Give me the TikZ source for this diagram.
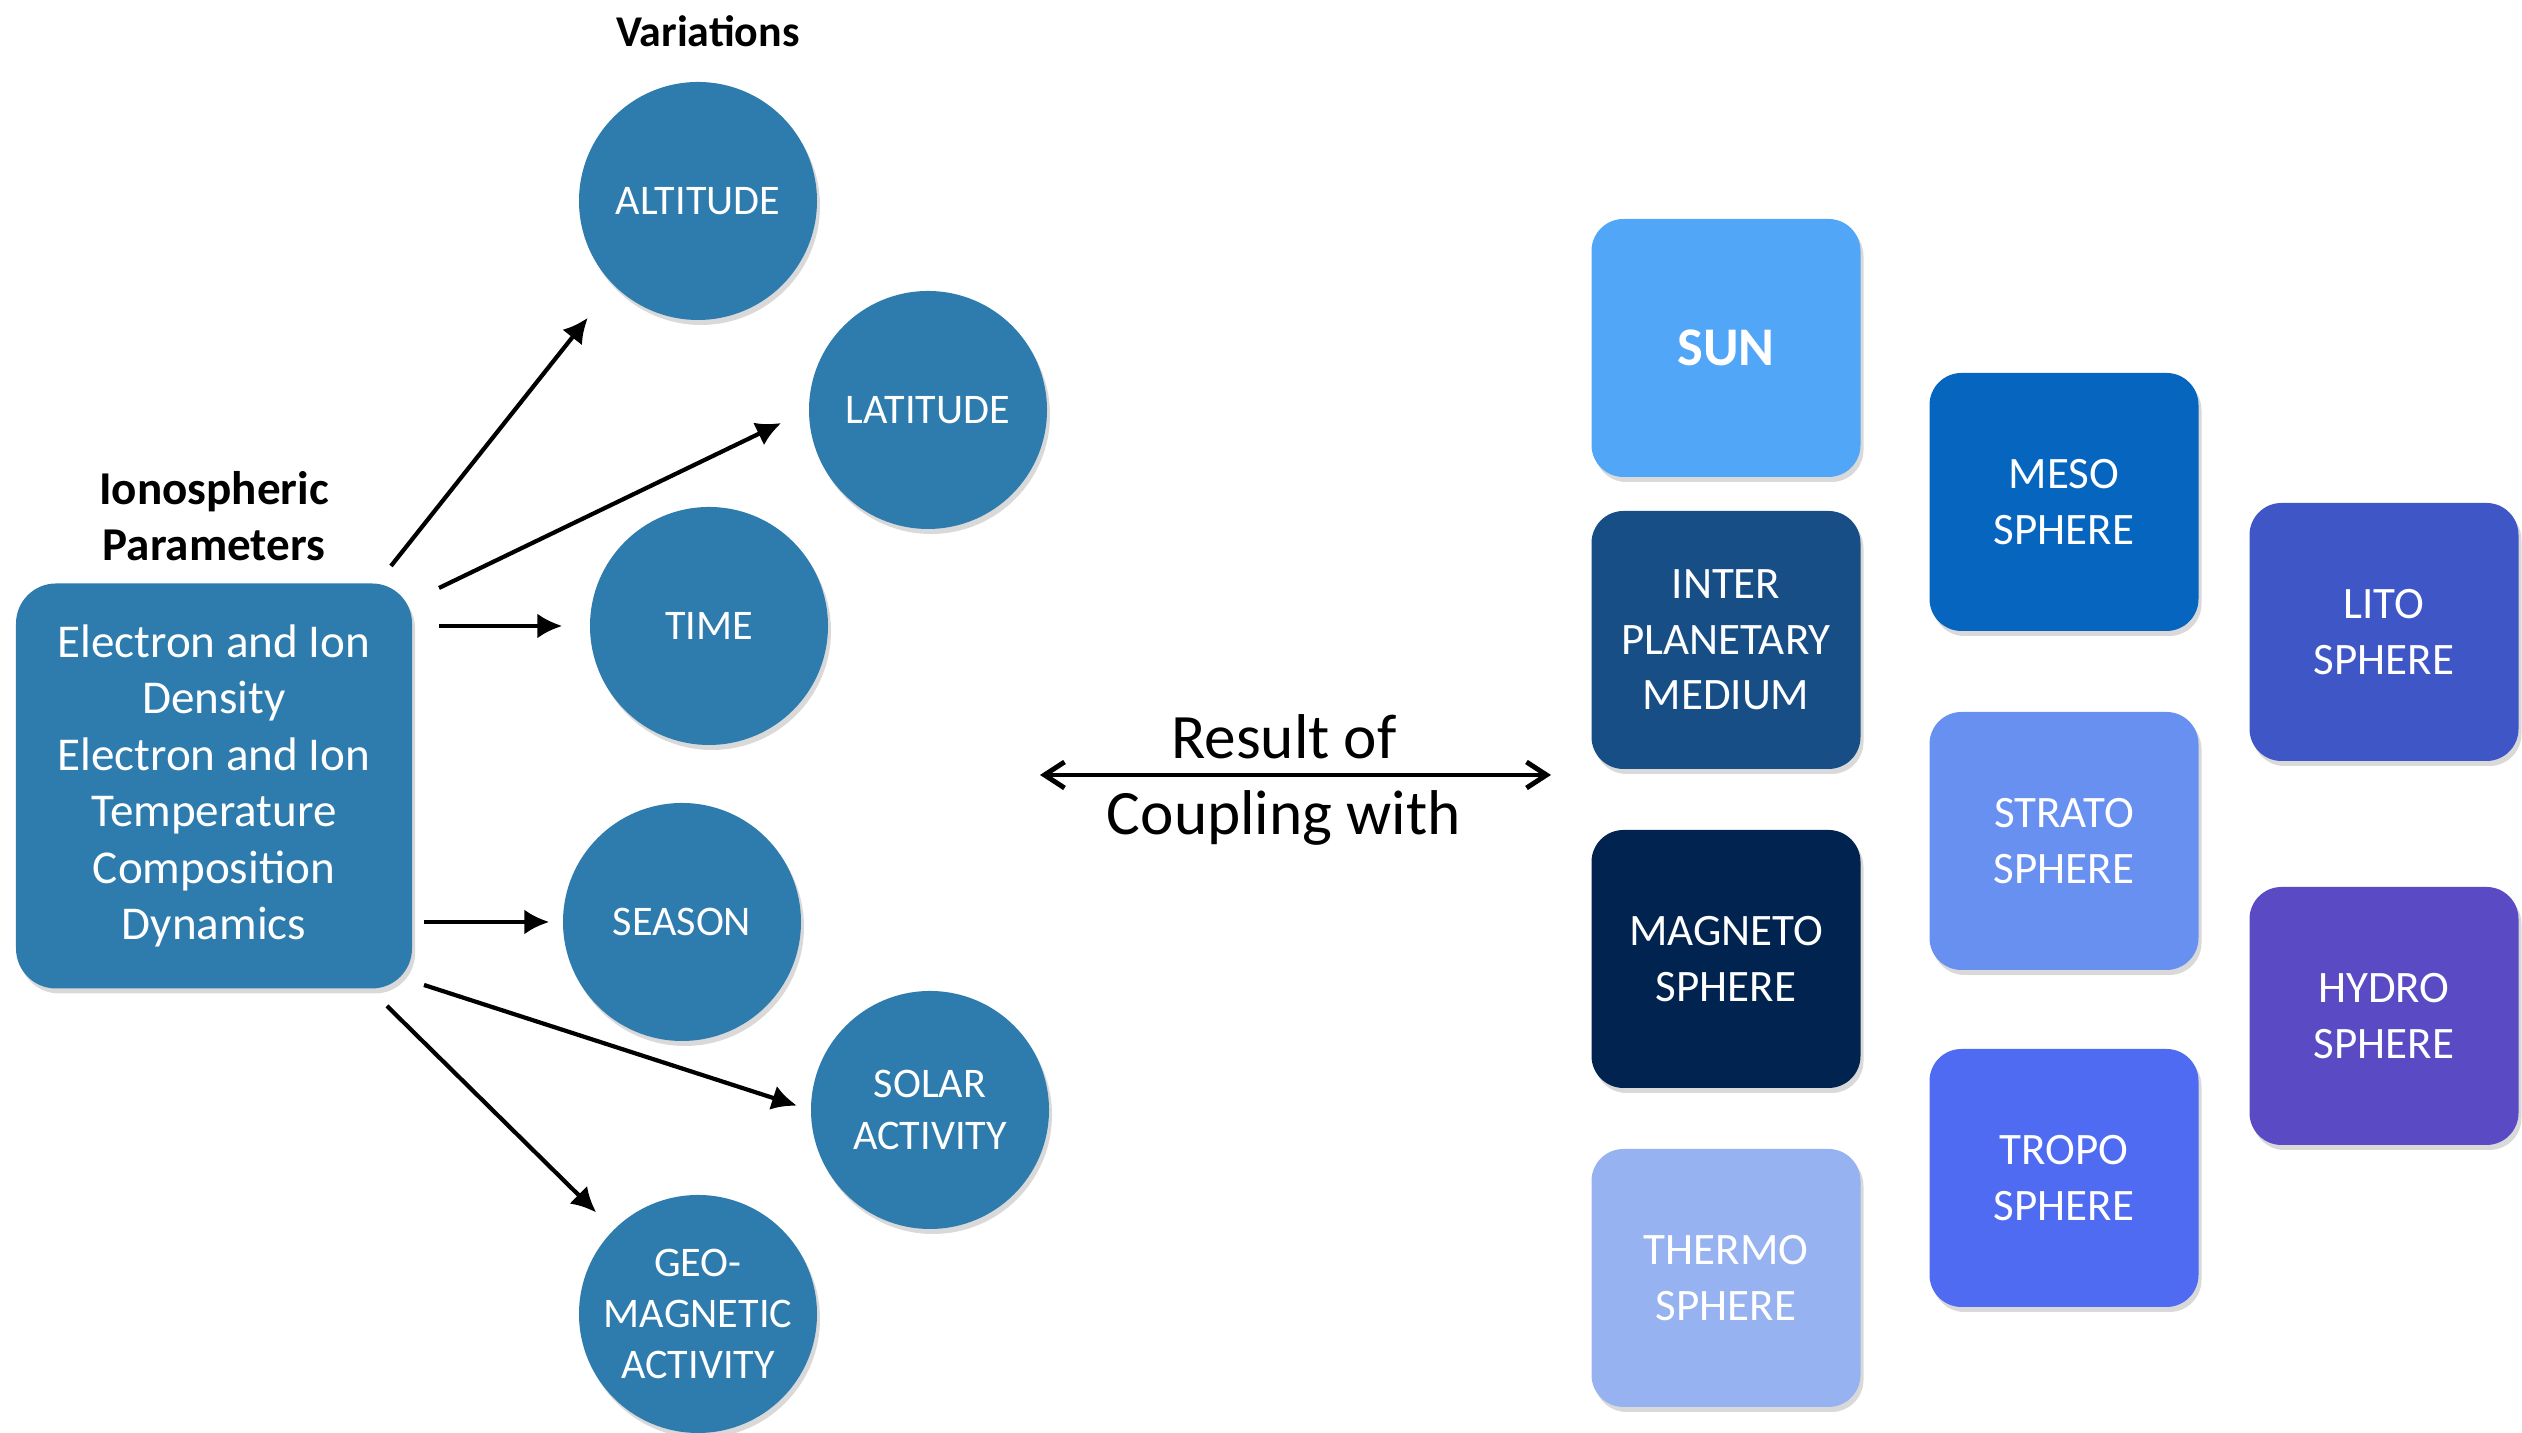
\documentclass[tikz,border=0pt]{standalone}
\usepackage{fontspec}
\setmainfont{Carlito}
\usetikzlibrary{arrows.meta,shadows}

\definecolor{varblue}{HTML}{2E7BAE}
\definecolor{sunblue}{HTML}{52A6F8}
\definecolor{ipmblue}{HTML}{184E86}
\definecolor{magblue}{HTML}{00234F}
\definecolor{thermoblue}{HTML}{97B2F1}
\definecolor{mesoblue}{HTML}{0565BF}
\definecolor{stratoblue}{HTML}{6890F0}
\definecolor{tropoblue}{HTML}{4F6BF1}
\definecolor{litoblue}{HTML}{3E56C6}
\definecolor{hydroblue}{HTML}{5A4AC4}

\begin{document}
\begin{tikzpicture}[
	softshadow/.style={drop shadow={shadow xshift=0.03cm,shadow yshift=-0.05cm,opacity=0.3}},
	varcirc/.style={circle,fill=varblue,text=white,minimum size=2.38cm,inner sep=0pt,align=center,font=\fontsize{12}{14.6}\selectfont,softshadow},
	spherebox/.style={rounded corners=0.32cm,fill=#1,text=white,minimum width=2.69cm,minimum height=2.58cm,inner sep=0pt,align=center,font=\fontsize{12.8}{15.8}\selectfont,softshadow},
	arr/.style={line width=1.2pt,-{Latex[length=0.25cm,width=0.25cm]}}
	]
	\useasboundingbox (0,0) rectangle (25.22,14.33);
	\node[font=\bfseries\fontsize{13.4}{16}\selectfont,align=center] (ptitle) at (2.14,9.17) {Ionospheric\\Parameters};
	\node[rounded corners=0.4cm,fill=varblue,text=white,minimum width=3.96cm,minimum height=4.05cm,align=center,font=\fontsize{13.4}{16.1}\selectfont,softshadow] (params) at (2.14,6.47) {Electron and Ion\\Density\\Electron and Ion\\Temperature\\Composition\\Dynamics};
	\node[font=\bfseries\fontsize{12.5}{15}\selectfont] (vtitle) at (7.08,14.02) {Variations};
	\node[varcirc] (alt) at (6.98,12.32) {ALTITUDE};
	\node[varcirc] (lat) at (9.28,10.23) {LATITUDE};
	\node[varcirc] (time) at (7.09,8.07) {TIME};
	\node[varcirc] (season) at (6.82,5.11) {SEASON};
	\node[varcirc] (solar) at (9.30,3.23) {SOLAR\\ACTIVITY};
	\node[varcirc] (geo) at (6.98,1.19) {GEO-\\MAGNETIC\\ACTIVITY};
	\coordinate (s1) at (3.91,8.67);
	\coordinate (s2) at (4.39,8.45);
	\coordinate (s3) at (4.39,8.07);
	\coordinate (s4) at (4.24,5.11);
	\coordinate (s5) at (4.24,4.48);
	\coordinate (s6) at (3.87,4.27);
	\draw[arr,shorten >=0.41cm] (s1) -- (alt.225);
	\draw[arr,shorten >=0.30cm] (s2) -- (lat.west);
	\draw[arr,shorten >=0.27cm] (s3) -- (time.west);
	\draw[arr,shorten >=0.13cm] (s4) -- (season.west);
	\draw[arr,shorten >=0.14cm] (s5) -- (solar.west);
	\draw[arr,shorten >=0.24cm] (s6) -- (geo.135);
	\node[font=\fontsize{18}{21.5}\selectfont,align=center] (coupling) at (12.84,6.53) {Result of\\Coupling with};
	\coordinate (cl) at (10.40,6.58);
	\coordinate (cr) at (15.51,6.58);
	\draw[line width=1.4pt,{Straight Barb[length=0.2cm,width=0.26cm]}-{Straight Barb[length=0.2cm,width=0.26cm]}] (cl) -- (cr);
	\node[spherebox=sunblue,font=\bfseries\fontsize{15.5}{18}\selectfont] (sun) at (17.26,10.85) {SUN};
	\node[spherebox=ipmblue] (ipm) at (17.26,7.93) {INTER\\PLANETARY\\MEDIUM};
	\node[spherebox=magblue] (magneto) at (17.26,4.74) {MAGNETO\\SPHERE};
	\node[spherebox=thermoblue] (thermo) at (17.26,1.55) {THERMO\\SPHERE};
	\node[spherebox=mesoblue] (meso) at (20.64,9.31) {MESO\\SPHERE};
	\node[spherebox=stratoblue] (strato) at (20.64,5.92) {STRATO\\SPHERE};
	\node[spherebox=tropoblue] (tropo) at (20.64,2.55) {TROPO\\SPHERE};
	\node[spherebox=litoblue] (lito) at (23.84,8.01) {LITO\\SPHERE};
	\node[spherebox=hydroblue] (hydro) at (23.84,4.17) {HYDRO\\SPHERE};
\end{tikzpicture}
\end{document}
